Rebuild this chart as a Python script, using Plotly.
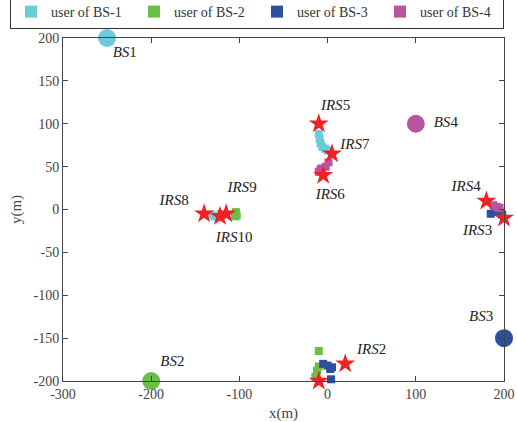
import plotly.graph_objects as go

# Base stations
bs_x = [-250, -200, 200, 100]
bs_y = [200, -200, -150, 100]
bs_names = ["BS1", "BS2", "BS3", "BS4"]
bs_label_x = [-230, -176, 174, 134]
bs_label_y = [182, -178, -126, 101]

# IRS positions
irs_x = [-10, 20, 200, 180, -10, -5, 5, -140, -115, -122]
irs_y = [-200, -180, -10, 10, 100, 40, 65, -5, -5, -8]
irs_names = ["IRS1", "IRS2", "IRS3", "IRS4", "IRS5", "IRS6", "IRS7", "IRS8", "IRS9", "IRS10"]
irs_label_x = [-40, 50, 170, 157, 9, 3, 31, -174, -97, -106]
irs_label_y = [-208, -164, -25, 26, 120, 17, 75, 10, 25, -33]

# Users
u1_x = [-10, -9, -8, -6, -3, 0, -132, -128, -124, -120]
u1_y = [88, 82, 77, 73, 71, 69, -6, -8, -9, -7]
u2_x = [-10, -10, -12, -14, -104, -103, -105]
u2_y = [-165, -183, -188, -195, -3, -7, -8]
u3_x = [-5, 0, 5, 3, 4, 185, 190, 196, 198]
u3_y = [-180, -182, -184, -186, -198, -5, -3, -4, -6]
u4_x = [-10, -6, -2, 1, -8, 188, 192, 195]
u4_y = [44, 48, 50, 55, 47, 5, 3, 2]

x_ticks = [-300, -200, -100, 0, 100, 200]
y_ticks = [-200, -150, -100, -50, 0, 50, 100, 150, 200]

colors = ["#6ACCDB", "#6BBF45", "#2E4FA0", "#B8559E"]
FONT = "Liberation Serif"

fig = go.Figure()
users = [(u1_x, u1_y), (u2_x, u2_y), (u3_x, u3_y), (u4_x, u4_y)]
for i, (ux, uy) in enumerate(users):
    fig.add_trace(go.Scatter(x=ux, y=uy, mode="markers", name=f"user of BS-{i+1}",
                             marker=dict(symbol="square", size=8, color=colors[i]),
                             cliponaxis=False))

fig.add_trace(go.Scatter(x=bs_x, y=bs_y, mode="markers", showlegend=False,
                         marker=dict(symbol="circle", size=18, color=colors), cliponaxis=False))
fig.add_trace(go.Scatter(x=irs_x, y=irs_y, mode="markers", showlegend=False,
                         marker=dict(symbol="star", size=15, color="#EE2222"), cliponaxis=False))

def lab(n):
    k = len(n.rstrip("0123456789"))
    return f"<i>{n[:k]}</i>{n[k:]}"

fig.add_trace(go.Scatter(x=bs_label_x + irs_label_x, y=bs_label_y + irs_label_y, mode="text",
                         text=[lab(n) for n in bs_names + irs_names], showlegend=False,
                         textfont=dict(family=FONT, size=15, color="#222"), cliponaxis=False))

axis_common = dict(showgrid=False, zeroline=False, showline=True, linecolor="#444", linewidth=1,
                   mirror="ticks", ticks="inside", ticklen=5, tickcolor="#444",
                   tickfont=dict(family=FONT, size=14, color="#444"))
fig.update_xaxes(range=[-300, 200], tickvals=x_ticks, ticktext=[str(v) for v in x_ticks],
                 title=dict(text="x(m)", font=dict(family=FONT, size=15, color="#444"), standoff=6), **axis_common)
fig.update_yaxes(range=[-200, 200], tickvals=y_ticks, ticktext=[str(v) for v in y_ticks],
                 title=dict(text="y(m)", font=dict(family=FONT, size=15, color="#444"), standoff=8), **axis_common)

fig.update_layout(
    width=517, height=422, autosize=False,
    margin=dict(l=63, r=13, t=38, b=41, autoexpand=False),
    plot_bgcolor="white", paper_bgcolor="white",
    legend=dict(orientation="h", x=(10 - 63) / 441, xanchor="left",
                y=1 + (38 + 5) / 343, yanchor="top", bordercolor="#333", borderwidth=1,
                entrywidth=78, entrywidthmode="pixels", tracegroupgap=0,
                font=dict(family=FONT, size=14, color="#333"), itemsizing="constant"),
)
fig.write_html("out.html")
